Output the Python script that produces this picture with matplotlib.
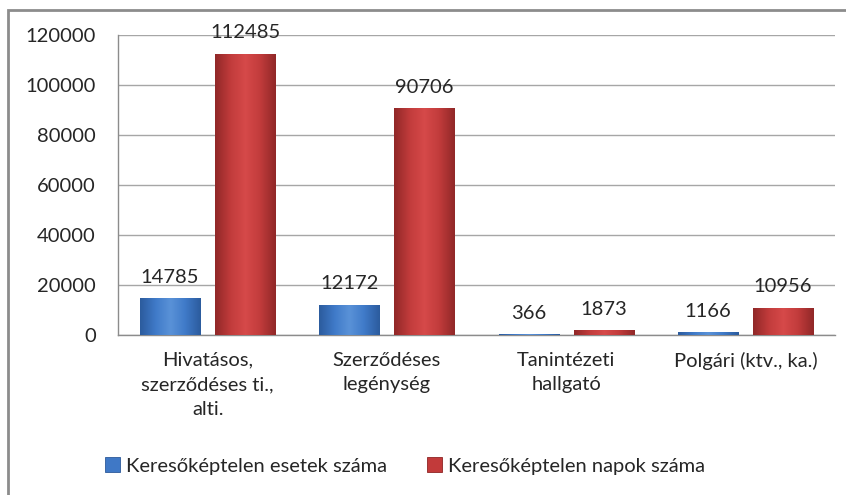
import matplotlib
matplotlib.use("Agg")
import matplotlib.pyplot as plt
import numpy as np
from matplotlib.patches import Rectangle
from matplotlib.colors import LinearSegmentedColormap

categories = ["Hivatásos,\nszerződéses ti.,\nalti.", "Szerződéses\nlegénység", "Tanintézeti\nhallgató", "Polgári (ktv., ka.)"]
esetek = [14785, 12172, 366, 1166]
napok = [112485, 90706, 1873, 10956]
series_names = ["Keresőképtelen esetek száma", "Keresőképtelen napok száma"]
yticks = [0, 20000, 40000, 60000, 80000, 100000, 120000]

plt.rcParams['font.family'] = ['Lato', 'DejaVu Sans']
txt = '#262626'

fig = plt.figure(figsize=(8.46, 4.95), dpi=100)
ax = fig.add_axes([118/846, 160/495, 717/846, 300/495])

x = np.arange(len(categories))
w = 0.335
gap = 0.084
b1 = ax.bar(x - (w+gap)/2, esetek, w, color='#3f78c6', edgecolor='#2d5a9a', linewidth=0.6, zorder=3, label=series_names[0])
b2 = ax.bar(x + (w+gap)/2, napok, w, color='#c23a3a', edgecolor='#8e2424', linewidth=0.6, zorder=3, label=series_names[1])

def shade(bars, dark, mid, light):
    cmap = LinearSegmentedColormap.from_list('g', [dark, mid, light, mid, dark])
    grad = np.linspace(0, 1, 64).reshape(1, -1)
    for b in bars:
        x0, y0 = b.get_x(), b.get_y()
        ww, hh = b.get_width(), b.get_height()
        im = ax.imshow(grad, extent=[x0, x0+ww, y0, y0+hh], aspect='auto', cmap=cmap, zorder=3.5, interpolation='bicubic')
        im.set_clip_path(b)

shade(b1, '#2c5c9e', '#3f7ac8', '#5a92d8')
shade(b2, '#912828', '#c13b3b', '#d64a4a')

for bars, vals in ((b1, esetek), (b2, napok)):
    for b, v in zip(bars, vals):
        ax.annotate(str(v), (b.get_x()+b.get_width()/2, v), xytext=(0, 9), textcoords='offset points',
                    ha='center', va='bottom', fontsize=14.5, color=txt, zorder=5)

ax.set_xlim(-0.5, len(categories)-0.5)
ax.set_ylim(0, 120000)
ax.set_yticks(yticks)
ax.set_yticklabels([str(t) for t in yticks], fontsize=14.5, color=txt)
ax.set_xticks(x)
ax.set_xticklabels(categories, fontsize=14.5, color=txt, linespacing=1.55, va='top')
ax.tick_params(axis='both', length=0)
ax.tick_params(axis='y', pad=16)
ax.tick_params(axis='x', pad=12)
ax.grid(axis='y', color='#a6a6a6', linewidth=1, zorder=0)
ax.set_axisbelow(True)
for s in ('top', 'right'):
    ax.spines[s].set_visible(False)
for s in ('left', 'bottom'):
    ax.spines[s].set_color('#8c8c8c')
    ax.spines[s].set_linewidth(1)

leg = fig.legend(handles=[b1, b2], labels=series_names, loc='center', bbox_to_anchor=(405/846, 1-466/495),
                 ncol=2, frameon=False, fontsize=14.5, handlelength=0.75, handleheight=0.75,
                 handletextpad=0.3, columnspacing=2.0, labelcolor=txt)

fig.add_artist(Rectangle((8/846, -0.1), 1.2, (495-10)/495 + 0.1, transform=fig.transFigure,
                         fill=False, edgecolor='#8c8c8c', linewidth=2))

fig.savefig('out.png', dpi=100)
